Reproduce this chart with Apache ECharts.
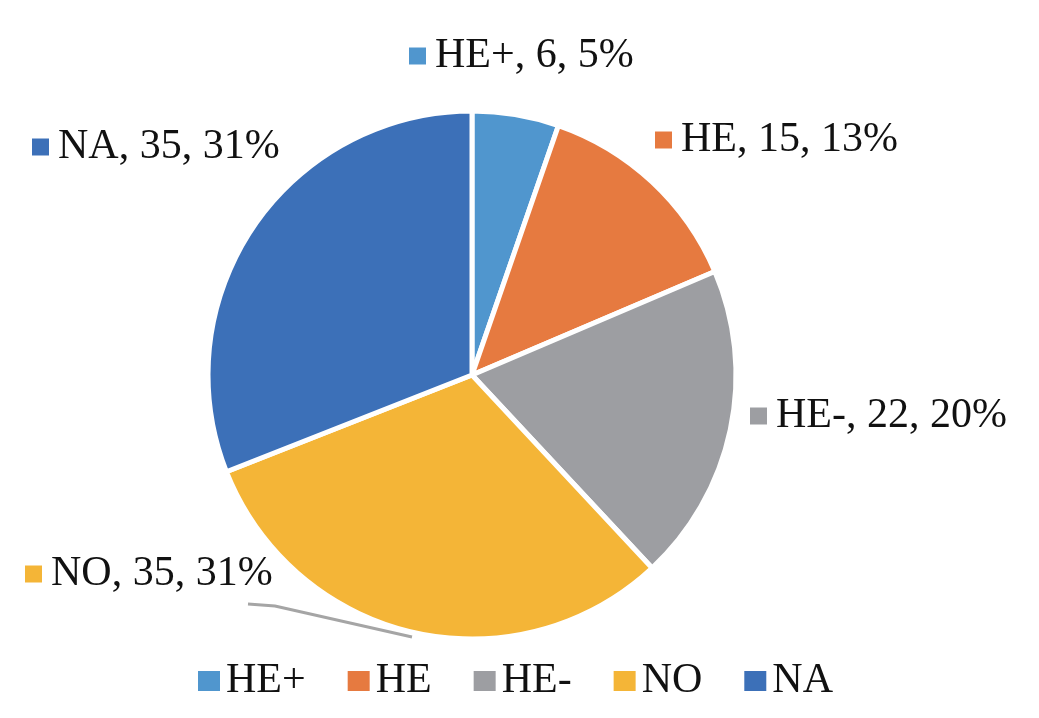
<!DOCTYPE html>
<html>
<head>
<meta charset="utf-8">
<script src="https://cdn.jsdelivr.net/npm/echarts@6/dist/echarts.min.js"></script>
<style>
  html, body { margin: 0; padding: 0; background: #fff; }
  #main { width: 1039px; height: 718px; }
</style>
</head>
<body>
<div id="main"></div>
<script>
// 数据
var categories = ['HE+', 'HE', 'HE-', 'NO', 'NA'];
var counts = [6, 15, 22, 35, 35];
var percents = ['5%', '13%', '20%', '31%', '31%'];
var colors = ['#5096CE', '#E67A40', '#9D9EA2', '#F4B537', '#3C70B8'];

// 标签位置 (左侧方块起点, 垂直中心)
var labelPos = [[409, 56], [655, 140], [750, 416], [25, 574], [32, 147]];

var rich = {
  t: { fontFamily: 'Liberation Serif', fontSize: 42, color: '#111', padding: [0, 0, 0, 9] }
};
colors.forEach(function (c, i) {
  rich['s' + i] = { backgroundColor: c, width: 17, height: 17 };
});

var pieData = categories.map(function (name, i) {
  return {
    name: name,
    value: counts[i],
    itemStyle: { color: colors[i] },
    labelLine: { show: i === 3 }
  };
});

var myChart = echarts.init(document.getElementById('main'));
var option = {
  backgroundColor: '#fff',
  animation: false,
  legend: {
    top: 660,
    left: 196,
    itemWidth: 24,
    itemHeight: 22,
    itemGap: 40,
    icon: 'rect',
    padding: 0,
    data: categories,
    textStyle: { fontFamily: 'Liberation Serif', fontSize: 42, color: '#111' }
  },
  series: [
    {
      name: '分类',
      type: 'pie',
      center: [472, 375],
      radius: 264,
      startAngle: 90,
      clockwise: true,
      itemStyle: { borderColor: '#fff', borderWidth: 5 },
      label: {
        show: true,
        position: 'outside',
        width: 320,
        overflow: 'none',
        formatter: function (p) {
          return '{s' + p.dataIndex + '|}{t|' + p.name + ', ' + p.value + ', ' + percents[p.dataIndex] + '}';
        },
        rich: rich
      },
      labelLine: {
        show: false,
        lineStyle: { color: '#A5A5A5', width: 3 }
      },
      labelLayout: function (params) {
        var pos = labelPos[params.dataIndex];
        var res = { x: pos[0], y: pos[1], align: 'left', verticalAlign: 'middle' };
        if (params.dataIndex === 3) {
          res.labelLinePoints = [[412, 637], [275, 606], [248, 604]];
        }
        return res;
      },
      data: pieData
    }
  ]
};
myChart.setOption(option);
</script>
</body>
</html>
